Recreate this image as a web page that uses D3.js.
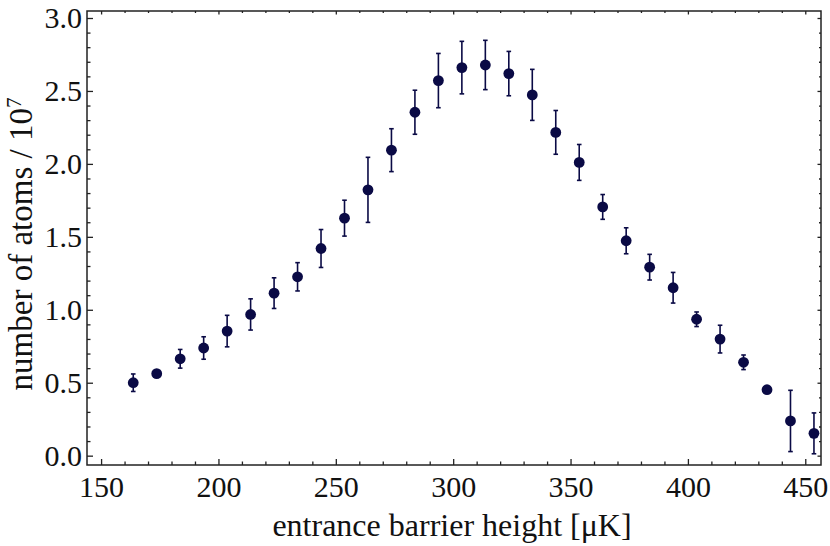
<!DOCTYPE html>
<html>
<head>
<meta charset="utf-8">
<script src="https://cdn.jsdelivr.net/npm/d3@7"></script>
<style>
  body { margin: 0; background: #fff; }
  text { font-family: "Liberation Serif", "DejaVu Serif", serif; fill: #111; }
</style>
</head>
<body>
<div id="chart-area"></div>
<script>
// data
let barrierHeight = [163.7, 173.7, 183.7, 193.7, 203.7, 213.7, 223.7, 233.7, 243.7, 253.7,
  263.7, 273.7, 283.7, 293.7, 303.7, 313.7, 323.7, 333.7, 343.7, 353.7,
  363.7, 373.7, 383.7, 393.7, 403.7, 413.7, 423.7, 433.7, 443.7, 453.7];
let atomNumber = [0.500, 0.562, 0.664, 0.738, 0.854, 0.968, 1.114, 1.226, 1.420, 1.628,
  1.822, 2.094, 2.354, 2.571, 2.660, 2.678, 2.619, 2.473, 2.216, 2.010,
  1.705, 1.473, 1.292, 1.151, 0.935, 0.799, 0.640, 0.452, 0.238, 0.153];
let atomError = [0.060, 0.020, 0.064, 0.077, 0.108, 0.107, 0.105, 0.097, 0.130, 0.123,
  0.223, 0.147, 0.151, 0.186, 0.180, 0.169, 0.152, 0.175, 0.150, 0.123,
  0.085, 0.089, 0.088, 0.105, 0.050, 0.095, 0.050, 0.015, 0.210, 0.140];

let xTicks = [150, 200, 250, 300, 350, 400, 450];
let yTicks = [0.0, 0.5, 1.0, 1.5, 2.0, 2.5, 3.0];

let data = barrierHeight.map((x, i) => ({ x: x, y: atomNumber[i], e: atomError[i] }));

// SVG drawing area
let margin = { top: 11, right: 9, bottom: 81, left: 87 };
let width = 830 - margin.left - margin.right,
  height = 546 - margin.top - margin.bottom;

let svg = d3
  .select('#chart-area')
  .append('svg')
  .attr('width', 830)
  .attr('height', 546)
  .append('g')
  .attr('transform', 'translate(' + margin.left + ',' + margin.top + ')');

// Scales
let x = d3.scaleLinear().domain([144, 456.7]).range([0, width]);
let y = d3.scaleLinear().domain([-0.064, 3.048]).range([height, 0]);

let xMinor = d3.range(150, 457, 10).filter(v => v % 50 !== 0);
let yMinor = d3.range(0, 31).map(v => v / 10).filter(v => Math.round(v * 10) % 5 !== 0);

// Axes: major ticks with labels, minor ticks without
let axisStyle = g => {
  g.select('.domain').remove();
  g.selectAll('line').attr('stroke', '#222').attr('stroke-width', 1.3);
};

svg.append('g')
  .attr('transform', 'translate(0,' + height + ')')
  .call(d3.axisBottom(x).tickValues(xTicks).tickSize(-6).tickPadding(12).tickFormat(d3.format('d')))
  .call(axisStyle)
  .selectAll('text').attr('font-size', 30).attr('dy', '0.71em').attr('y', 11);
svg.append('g')
  .attr('transform', 'translate(0,' + height + ')')
  .call(d3.axisBottom(x).tickValues(xMinor).tickSize(-3.5).tickFormat(''))
  .call(axisStyle);

svg.append('g')
  .call(d3.axisLeft(y).tickValues(yTicks).tickSize(-6).tickPadding(5).tickFormat(d3.format('.1f')))
  .call(axisStyle)
  .selectAll('text').attr('font-size', 30).attr('x', -5);
svg.append('g')
  .call(d3.axisLeft(y).tickValues(yMinor).tickSize(-3.5).tickFormat(''))
  .call(axisStyle);

// top and right: short ticks only
svg.append('g')
  .call(d3.axisTop(x).tickValues(xTicks).tickSize(-3.5).tickFormat(''))
  .call(axisStyle);
svg.append('g')
  .call(d3.axisTop(x).tickValues(xMinor).tickSize(-2).tickFormat(''))
  .call(axisStyle);
svg.append('g')
  .attr('transform', 'translate(' + width + ',0)')
  .call(d3.axisRight(y).tickValues(yTicks).tickSize(-3.5).tickFormat(''))
  .call(axisStyle);
svg.append('g')
  .attr('transform', 'translate(' + width + ',0)')
  .call(d3.axisRight(y).tickValues(yMinor).tickSize(-2).tickFormat(''))
  .call(axisStyle);

// frame
svg.append('rect')
  .attr('width', width)
  .attr('height', height)
  .attr('fill', 'none')
  .attr('stroke', '#222')
  .attr('stroke-width', 1.5);

// error bars
let color = '#0a0a45';
let bars = svg.selectAll('.err').data(data).enter().append('g').attr('class', 'err')
  .attr('stroke', color).attr('stroke-width', 1.6);
bars.append('line')
  .attr('x1', d => x(d.x)).attr('x2', d => x(d.x))
  .attr('y1', d => y(d.y - d.e)).attr('y2', d => y(d.y + d.e));
bars.append('line')
  .attr('x1', d => x(d.x) - 2.3).attr('x2', d => x(d.x) + 2.3)
  .attr('y1', d => y(d.y + d.e)).attr('y2', d => y(d.y + d.e));
bars.append('line')
  .attr('x1', d => x(d.x) - 2.3).attr('x2', d => x(d.x) + 2.3)
  .attr('y1', d => y(d.y - d.e)).attr('y2', d => y(d.y - d.e));

// points
svg.selectAll('circle').data(data).enter().append('circle')
  .attr('cx', d => x(d.x))
  .attr('cy', d => y(d.y))
  .attr('r', 5.4)
  .attr('fill', color);

// axis titles
svg.append('text')
  .attr('x', width / 2 - 2)
  .attr('y', 525)
  .attr('text-anchor', 'middle')
  .attr('font-size', 32)
  .text('entrance barrier height [\u03BCK]');

let yTitle = svg.append('text')
  .attr('transform', 'translate(' + (32 - margin.left) + ',' + (233) + ') rotate(-90)')
  .attr('text-anchor', 'middle')
  .attr('font-size', 33);
yTitle.append('tspan').text('number of atoms / 10');
yTitle.append('tspan').attr('font-size', 21).attr('dy', -11).text('7');
</script>
</body>
</html>
